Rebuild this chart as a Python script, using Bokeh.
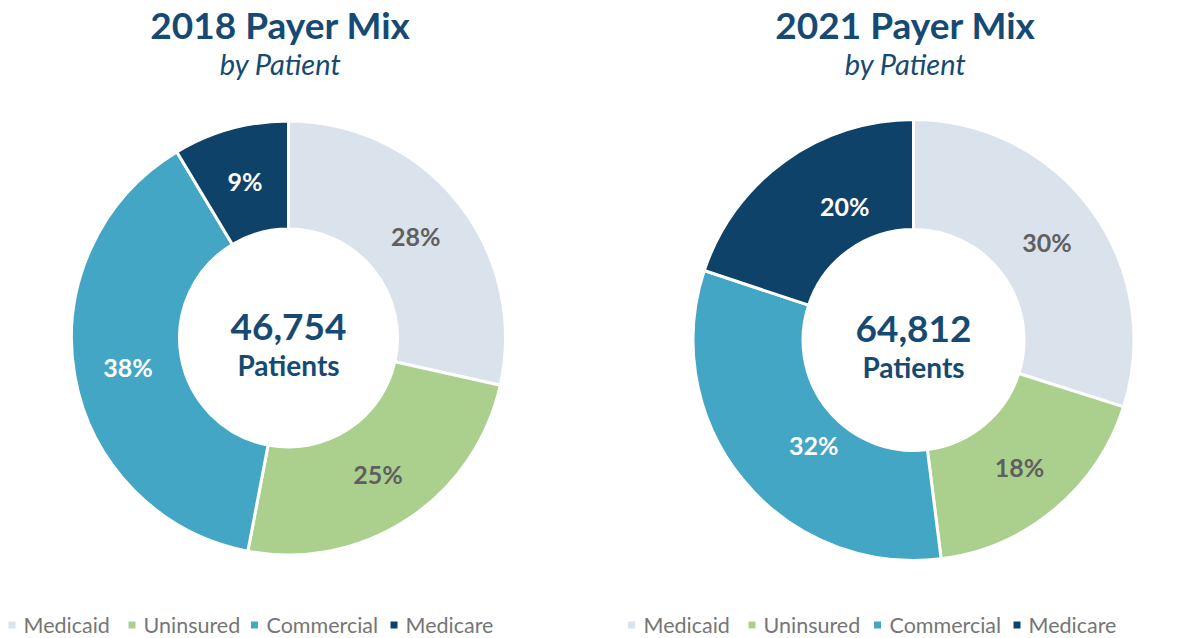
import math
from bokeh.plotting import figure
from bokeh.models import Range1d, ColumnDataSource
from bokeh.core.properties import value
from bokeh.embed import file_html
from bokeh.resources import INLINE

# ---- data ----
categories = ["Medicaid", "Uninsured", "Commercial", "Medicare"]
colors = ["#dae3ec", "#abd08e", "#42a6c4", "#0e4268"]
label_colors = ["#5f5f5f", "#5f5f5f", "#ffffff", "#ffffff"]
shares_2018 = [28.5, 24.5, 38.4, 8.6]
labels_2018 = ["28%", "25%", "38%", "9%"]
shares_2021 = [29.9, 18.1, 32.1, 19.9]
labels_2021 = ["30%", "18%", "32%", "20%"]
totals = ["46,754", "64,812"]
titles = ["2018 Payer Mix", "2021 Payer Mix"]
subtitle = "by Patient"
center_word = "Patients"

# ---- layout (picture pixel coordinates) ----
W, H = 1198, 638
def Y(py):
    return H - py

FONT = "Lato"
NAVY = "#164a72"
GREY = "#767676"

p = figure(width=W, height=H, x_range=Range1d(0, W), y_range=Range1d(0, H),
           output_backend="svg", toolbar_location=None, min_border=0,
           outline_line_color=None, background_fill_color="white")
p.axis.visible = False
p.grid.visible = False


def donut(cx, cy, r_out, r_in, shares, labels, total, title, title_x, dy, nudges):
    tot = sum(shares)
    starts, ends, mids = [], [], []
    c = 0.0
    for s in shares:
        a0 = c / tot
        c += s
        a1 = c / tot
        starts.append(math.pi / 2 - a0 * 2 * math.pi)
        ends.append(math.pi / 2 - a1 * 2 * math.pi)
        mids.append(math.pi / 2 - (a0 + a1) / 2 * 2 * math.pi)
    src = ColumnDataSource(dict(start=starts, end=ends, color=colors, cat=categories))
    p.annular_wedge(x=cx, y=Y(cy), inner_radius=r_in - 1.5, outer_radius=r_out + 1.5,
                    start_angle="start", end_angle="end", direction="clock",
                    fill_color="color", line_color="white", line_width=3, source=src)
    rm = (r_in + r_out) / 2
    lx = [cx + rm * math.cos(m) + n[0] for m, n in zip(mids, nudges)]
    ly = [Y(cy) + rm * math.sin(m) + n[1] for m, n in zip(mids, nudges)]
    lsrc = ColumnDataSource(dict(x=lx, y=ly, text=labels, color=label_colors))
    p.text(x="x", y="y", text="text", text_color="color", source=lsrc,
           text_font=value(FONT), text_font_size="25px", text_font_style="bold",
           text_align="center", text_baseline="middle")
    # center text
    p.text(x=[cx], y=[Y(326 + dy)], text=[total], text_color=NAVY, text_font=value(FONT),
           text_font_size="37px", text_font_style="bold", text_align="center",
           text_baseline="middle")
    p.text(x=[cx], y=[Y(364 + dy)], text=[center_word], text_color=NAVY, text_font=value(FONT),
           text_font_size="28px", text_font_style="bold", text_align="center",
           text_baseline="middle")
    # titles
    p.text(x=[title_x], y=[Y(24)], text=[title], text_color=NAVY, text_font=value(FONT),
           text_font_size="37px", text_font_style="bold", text_align="center",
           text_baseline="middle")
    p.text(x=[title_x], y=[Y(63)], text=[subtitle], text_color=NAVY, text_font=value(FONT),
           text_font_size="29px", text_font_style="italic", text_align="center",
           text_baseline="middle")


no_nudge = [(0, 0)] * 4
nudge_2021 = [(0, 0), (0, 0), (28, 0), (28, 0)]
donut(288, 337.5, 215.5, 110.5, shares_2018, labels_2018, totals[0], titles[0], 280, 0, no_nudge)
donut(913, 339.5, 219, 112, shares_2021, labels_2021, totals[1], titles[1], 905, 2, nudge_2021)

# legends
legend_rows = [
    ([11.5, 131.5, 254, 393.5], [23, 143, 266, 405]),
    ([631, 751.5, 877, 1016.5], [643, 763, 889, 1028]),
]
for sq_x, tx_x in legend_rows:
    p.scatter(x=sq_x, y=[Y(624.5)] * 4, marker="square", size=7, fill_color=colors,
              line_color=None)
    p.text(x=tx_x, y=[Y(624)] * 4, text=categories, text_color=GREY, text_font=value(FONT),
           text_font_size="21.5px", text_align="left", text_baseline="middle")

open("out.html", "w").write(file_html(p, INLINE))
